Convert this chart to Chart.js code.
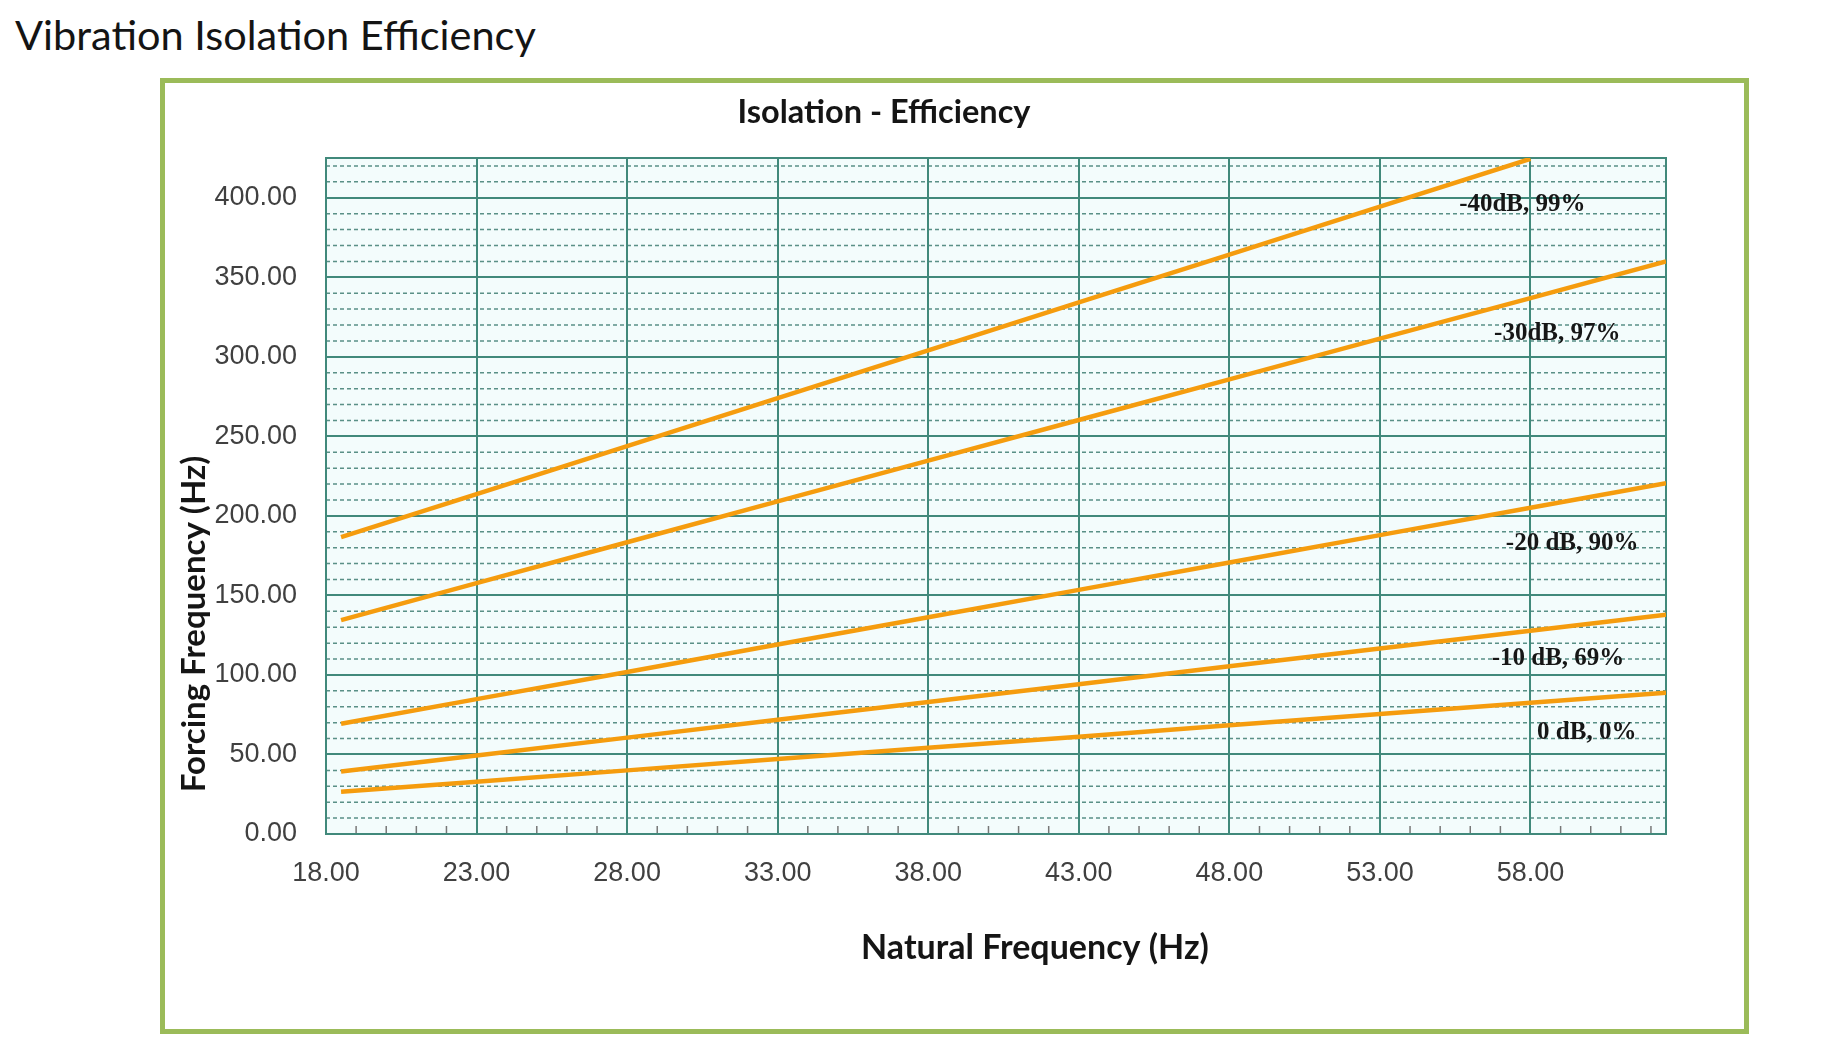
<!DOCTYPE html>
<html lang="en">
<head>
<meta charset="UTF-8">
<title>Vibration Isolation Efficiency</title>
<script src="https://cdn.jsdelivr.net/npm/chart.js"></script>
<style>
body {
    margin: 0;
    background: #fff;
    width: 1826px;
    height: 1063px;
    position: relative;
    overflow: hidden;
}
#pageTitle {
    position: absolute;
    left: 15px;
    top: 14px;
    font-family: Lato, sans-serif;
    font-size: 41.5px;
    line-height: 1;
    color: #141414;
    white-space: nowrap;
}
#frame {
    position: absolute;
    left: 160px;
    top: 78px;
    width: 1589px;
    height: 956px;
    border: 5px solid #9bbb59;
    box-sizing: border-box;
    background: #fff;
}
#chart { display: block; }
</style>
</head>
<body>

<div id="pageTitle">Vibration Isolation Efficiency</div>
<div id="frame"><canvas id="chart" width="1579" height="946"></canvas></div>

<script>
// natural frequency (Hz) at which each curve was read
let natFreq = [18.5, 23, 28, 33, 38, 43, 48, 53, 58, 62.5];

// forcing frequency (Hz) for each attenuation curve
let db40 = [186.7, 213.7, 243.9, 274.0, 304.1, 334.2, 364.2, 394.4, 424.5, null];
let db30 = [134.5, 157.7, 183.4, 209.1, 234.7, 260.3, 285.8, 311.4, 336.9, 360.0];
let db20 = [69.3, 84.8, 101.9, 119.1, 136.3, 153.5, 170.7, 187.9, 205.1, 220.6];
let db10 = [39.3, 49.4, 60.6, 71.8, 83.0, 94.2, 105.4, 116.6, 127.8, 137.9];
let db0 = [26.6, 32.9, 40.0, 47.1, 54.2, 61.2, 68.3, 75.4, 82.5, 88.8];

let seriesNames = ['-40dB, 99%', '-30dB, 97%', '-20 dB, 90%', '-10 dB, 69%', '0 dB, 0%'];

let xTicks = [18, 23, 28, 33, 38, 43, 48, 53, 58];
let yTicks = [0, 50, 100, 150, 200, 250, 300, 350, 400];

// where the curve names sit, in axis units
let labelX = [55.63, 56.79, 57.18, 56.71, 58.22];
let labelY = [396, 314.5, 182.5, 110, 63.8];

const allSeries = [db40, db30, db20, db10, db0];

const teal = '#41897b';
const lineColor = '#f59c0e';

const plotDecor = {
    id: 'plotDecor',
    beforeDraw(chart) {
        const ctx = chart.ctx;
        const a = chart.chartArea;
        const x = chart.scales.x;
        const y = chart.scales.y;
        ctx.save();
        ctx.fillStyle = '#f3fcfc';
        ctx.fillRect(a.left, a.top, a.right - a.left, a.bottom - a.top);

        // dashed minor lines every 10 Hz
        ctx.strokeStyle = 'rgba(62, 124, 114, 0.85)';
        ctx.lineWidth = 1.5;
        ctx.setLineDash([4, 3]);
        for (let v = 10; v < y.max; v += 10) {
            if (v % 50 === 0) continue;
            const py = y.getPixelForValue(v);
            ctx.beginPath();
            ctx.moveTo(a.left, py);
            ctx.lineTo(a.right, py);
            ctx.stroke();
        }
        ctx.setLineDash([]);

        // small tick marks on the bottom axis every 1 Hz
        ctx.strokeStyle = '#777';
        ctx.lineWidth = 1.5;
        for (let v = 19; v < x.max; v++) {
            if ((v - 18) % 5 === 0) continue;
            const px = x.getPixelForValue(v);
            ctx.beginPath();
            ctx.moveTo(px, a.bottom);
            ctx.lineTo(px, a.bottom - 8);
            ctx.stroke();
        }
        ctx.restore();
    },
    beforeDatasetsDraw(chart) {
        const ctx = chart.ctx;
        const a = chart.chartArea;
        ctx.save();
        ctx.strokeStyle = teal;
        ctx.lineWidth = 2;
        ctx.strokeRect(a.left, a.top, a.right - a.left, a.bottom - a.top);
        ctx.restore();
    },
    afterDatasetsDraw(chart) {
        const ctx = chart.ctx;
        const x = chart.scales.x;
        const y = chart.scales.y;
        ctx.save();
        ctx.fillStyle = '#161616';
        ctx.font = 'bold 25px "Liberation Serif", "Times New Roman", serif';
        ctx.textAlign = 'left';
        ctx.textBaseline = 'middle';
        seriesNames.forEach((name, i) => {
            ctx.fillText(name, x.getPixelForValue(labelX[i]), y.getPixelForValue(labelY[i]));
        });
        ctx.restore();
    },
    afterDraw(chart) {
        const ctx = chart.ctx;
        ctx.save();
        ctx.fillStyle = '#151515';
        ctx.textAlign = 'center';
        ctx.textBaseline = 'alphabetic';
        ctx.font = 'bold 32.5px Lato, sans-serif';
        ctx.fillText('Isolation - Efficiency', 719, 40);
        ctx.font = 'bold 34px Lato, sans-serif';
        ctx.fillText('Natural Frequency (Hz)', 870, 876);
        ctx.font = 'bold 33px Lato, sans-serif';
        ctx.translate(40, 541);
        ctx.rotate(-Math.PI / 2);
        ctx.fillText('Forcing Frequency (Hz)', 0, 0);
        ctx.restore();
    }
};

const tickFont = { family: '"Liberation Sans", Arial, sans-serif', size: 27 };

new Chart(document.getElementById('chart'), {
    type: 'line',
    data: {
        datasets: allSeries.map((vals, i) => ({
            label: seriesNames[i],
            data: natFreq.map((f, j) => ({ x: f, y: vals[j] })),
            borderColor: lineColor,
            backgroundColor: lineColor,
            borderWidth: 4.5,
            pointRadius: 0,
            tension: 0,
            fill: false
        }))
    },
    options: {
        responsive: false,
        animation: false,
        devicePixelRatio: 1,
        layout: { padding: { top: 75, right: 78, left: 0, bottom: 0 } },
        plugins: {
            legend: { display: false },
            tooltip: { enabled: false },
            title: { display: false }
        },
        scales: {
            x: {
                type: 'linear',
                min: 18,
                max: 62.5,
                afterBuildTicks: s => { s.ticks = xTicks.map(v => ({ value: v })); },
                afterFit: s => { s.height = 195; },
                grid: { color: teal, lineWidth: 2, drawTicks: false },
                border: { color: teal, width: 2 },
                ticks: {
                    padding: 23,
                    color: '#404040',
                    font: tickFont,
                    autoSkip: false,
                    maxRotation: 0,
                    callback: v => v.toFixed(2)
                }
            },
            y: {
                type: 'linear',
                min: 0,
                max: 425,
                afterBuildTicks: s => { s.ticks = yTicks.map(v => ({ value: v })); },
                afterFit: s => { s.width = 161; },
                grid: { color: teal, lineWidth: 2, drawTicks: false },
                border: { color: teal, width: 2 },
                ticks: {
                    padding: 29,
                    color: '#404040',
                    font: tickFont,
                    autoSkip: false,
                    callback: v => v.toFixed(2)
                }
            }
        }
    },
    plugins: [plotDecor]
});
</script>
</body>
</html>
